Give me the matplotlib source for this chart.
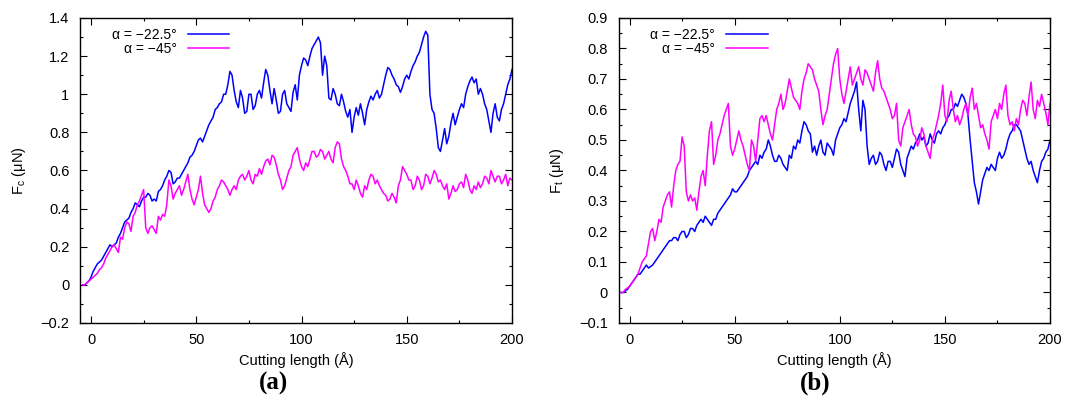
import matplotlib
matplotlib.use("Agg")
import matplotlib.pyplot as plt
import matplotlib.ticker as ticker
import numpy as np

plt.rcParams["font.family"] = ["Liberation Sans", "DejaVu Sans"]
plt.rcParams["font.size"] = 10.5

# sample positions (Å), one per angstrom from -4 to 200
cut_len = np.arange(-4, 201, 1)

# (a) cutting force F_c (uN), rows of 10 samples
fc_225 = [
    0.00, 0.00, 0.01, 0.02, 0.04, 0.07, 0.09, 0.11, 0.12, 0.13,
    0.15, 0.17, 0.19, 0.21, 0.20, 0.21, 0.22, 0.25, 0.27, 0.30,
    0.33, 0.34, 0.35, 0.38, 0.40, 0.43, 0.42, 0.41, 0.44, 0.46,
    0.46, 0.48, 0.47, 0.44, 0.45, 0.44, 0.49, 0.50, 0.52, 0.55,
    0.57, 0.60, 0.59, 0.53, 0.54, 0.56, 0.56, 0.58, 0.60, 0.62,
    0.64, 0.67, 0.68, 0.70, 0.73, 0.76, 0.77, 0.75, 0.78, 0.81,
    0.84, 0.86, 0.88, 0.92, 0.93, 0.95, 0.96, 1.00, 1.00, 1.05,
    1.12, 1.10, 1.02, 0.96, 0.93, 1.02, 0.98, 0.90, 0.91, 1.00,
    1.00, 0.92, 0.94, 1.00, 1.02, 0.98, 1.06, 1.13, 1.10, 1.02,
    0.95, 1.03, 0.97, 0.90, 0.91, 1.00, 1.02, 0.95, 0.93, 0.91,
    1.01, 1.05, 0.97, 1.10, 1.15, 1.19, 1.18, 1.15, 1.20, 1.24,
    1.26, 1.28, 1.30, 1.27, 1.10, 1.20, 1.15, 0.98, 0.97, 1.03,
    1.00, 0.95, 0.94, 1.00, 0.96, 0.91, 0.88, 0.92, 0.80, 0.88,
    0.93, 0.89, 0.95, 0.90, 0.84, 0.92, 0.96, 0.99, 0.97, 1.00,
    1.02, 0.98, 1.00, 1.05, 1.10, 1.14, 1.13, 1.10, 1.08, 1.05,
    1.04, 1.01, 1.04, 1.08, 1.10, 1.08, 1.12, 1.15, 1.17, 1.20,
    1.22, 1.26, 1.30, 1.33, 1.31, 1.00, 0.92, 0.90, 0.82, 0.72,
    0.70, 0.76, 0.82, 0.74, 0.78, 0.85, 0.90, 0.84, 0.88, 0.92,
    0.95, 0.93, 1.00, 1.04, 1.07, 1.09, 1.06, 1.08, 1.00, 1.03,
    1.00, 0.95, 0.92, 0.86, 0.80, 0.90, 0.95, 0.88, 0.86, 0.92,
    0.95, 1.00, 1.05, 1.08, 1.13,
]
fc_45 = [
    0.00, 0.00, 0.01, 0.02, 0.03, 0.04, 0.05, 0.06, 0.08, 0.09,
    0.11, 0.14, 0.16, 0.18, 0.20, 0.21, 0.19, 0.17, 0.25, 0.24,
    0.30, 0.33, 0.32, 0.28, 0.36, 0.38, 0.42, 0.44, 0.47, 0.50,
    0.30, 0.27, 0.30, 0.31, 0.29, 0.27, 0.36, 0.34, 0.37, 0.36,
    0.42, 0.55, 0.52, 0.45, 0.48, 0.50, 0.52, 0.47, 0.50, 0.54,
    0.58, 0.50, 0.45, 0.42, 0.46, 0.50, 0.57, 0.48, 0.42, 0.40,
    0.38, 0.40, 0.44, 0.46, 0.50, 0.52, 0.55, 0.54, 0.52, 0.50,
    0.47, 0.50, 0.52, 0.50, 0.55, 0.57, 0.58, 0.55, 0.57, 0.60,
    0.55, 0.53, 0.58, 0.57, 0.61, 0.58, 0.62, 0.65, 0.66, 0.63,
    0.68, 0.67, 0.63, 0.58, 0.55, 0.50, 0.52, 0.56, 0.60, 0.62,
    0.68, 0.70, 0.72, 0.66, 0.62, 0.60, 0.64, 0.62, 0.66, 0.70,
    0.70, 0.67, 0.68, 0.71, 0.70, 0.66, 0.68, 0.70, 0.66, 0.64,
    0.72, 0.75, 0.74, 0.66, 0.62, 0.60, 0.57, 0.53, 0.53, 0.50,
    0.55, 0.52, 0.48, 0.46, 0.52, 0.50, 0.55, 0.58, 0.57, 0.53,
    0.55, 0.52, 0.50, 0.48, 0.47, 0.44, 0.45, 0.48, 0.46, 0.43,
    0.52, 0.55, 0.62, 0.60, 0.58, 0.55, 0.55, 0.50, 0.52, 0.57,
    0.55, 0.50, 0.52, 0.58, 0.57, 0.53, 0.56, 0.60, 0.58, 0.54,
    0.55, 0.52, 0.50, 0.53, 0.45, 0.48, 0.52, 0.49, 0.50, 0.53,
    0.54, 0.51, 0.58, 0.55, 0.50, 0.48, 0.52, 0.50, 0.54, 0.51,
    0.53, 0.57, 0.56, 0.53, 0.60, 0.57, 0.54, 0.57, 0.57, 0.53,
    0.55, 0.58, 0.52, 0.56, 0.55,
]

# (b) thrust force F_t (uN)
ft_225 = [
    0.000, 0.000, 0.005, 0.01, 0.02, 0.03, 0.04, 0.05, 0.06, 0.06,
    0.07, 0.08, 0.09, 0.08, 0.085, 0.09, 0.10, 0.11, 0.12, 0.13,
    0.14, 0.15, 0.16, 0.17, 0.17, 0.18, 0.18, 0.17, 0.19, 0.20,
    0.20, 0.18, 0.19, 0.21, 0.21, 0.20, 0.22, 0.23, 0.24, 0.23,
    0.25, 0.24, 0.23, 0.22, 0.24, 0.24, 0.26, 0.27, 0.28, 0.29,
    0.30, 0.31, 0.32, 0.34, 0.33, 0.33, 0.34, 0.35, 0.36, 0.37,
    0.38, 0.40, 0.41, 0.42, 0.43, 0.42, 0.45, 0.44, 0.46, 0.47,
    0.50, 0.48, 0.45, 0.43, 0.43, 0.45, 0.44, 0.42, 0.41, 0.40,
    0.45, 0.44, 0.48, 0.47, 0.50, 0.49, 0.53, 0.56, 0.55, 0.53,
    0.52, 0.46, 0.48, 0.45, 0.48, 0.50, 0.46, 0.45, 0.49, 0.48,
    0.47, 0.45, 0.50, 0.52, 0.54, 0.55, 0.57, 0.56, 0.59, 0.62,
    0.64, 0.66, 0.69, 0.60, 0.53, 0.63, 0.60, 0.48, 0.42, 0.44,
    0.45, 0.42, 0.43, 0.46, 0.45, 0.42, 0.40, 0.43, 0.43, 0.41,
    0.44, 0.47, 0.46, 0.42, 0.40, 0.38, 0.44, 0.46, 0.48, 0.47,
    0.49, 0.50, 0.52, 0.50, 0.51, 0.48, 0.49, 0.52, 0.50, 0.49,
    0.52, 0.53, 0.52, 0.54, 0.55, 0.57, 0.58, 0.60, 0.60, 0.62,
    0.61, 0.63, 0.65, 0.64, 0.62, 0.58, 0.50, 0.43, 0.36, 0.33,
    0.29, 0.33, 0.37, 0.39, 0.41, 0.40, 0.42, 0.41, 0.40, 0.44,
    0.46, 0.44, 0.45, 0.47, 0.50, 0.52, 0.53, 0.55, 0.55, 0.54,
    0.53, 0.50, 0.47, 0.44, 0.42, 0.43, 0.40, 0.38, 0.36, 0.40,
    0.43, 0.44, 0.46, 0.47, 0.50,
]
ft_45 = [
    0.00, 0.00, 0.01, 0.015, 0.02, 0.03, 0.04, 0.05, 0.06, 0.08,
    0.10, 0.11, 0.12, 0.16, 0.20, 0.21, 0.17, 0.20, 0.24, 0.23,
    0.28, 0.30, 0.32, 0.33, 0.28, 0.35, 0.40, 0.42, 0.43, 0.51,
    0.48, 0.33, 0.30, 0.32, 0.30, 0.31, 0.27, 0.33, 0.38, 0.40,
    0.35, 0.45, 0.53, 0.56, 0.42, 0.45, 0.50, 0.52, 0.55, 0.58,
    0.60, 0.62, 0.48, 0.45, 0.47, 0.50, 0.53, 0.50, 0.48, 0.45,
    0.42, 0.40, 0.50, 0.48, 0.43, 0.50, 0.57, 0.58, 0.56, 0.58,
    0.55, 0.52, 0.50, 0.55, 0.60, 0.62, 0.65, 0.60, 0.62, 0.66,
    0.70, 0.67, 0.64, 0.63, 0.62, 0.60, 0.66, 0.70, 0.72, 0.75,
    0.74, 0.73, 0.70, 0.68, 0.66, 0.60, 0.55, 0.58, 0.60, 0.65,
    0.70, 0.75, 0.78, 0.80, 0.70, 0.65, 0.62, 0.66, 0.70, 0.74,
    0.68, 0.70, 0.72, 0.74, 0.70, 0.68, 0.73, 0.72, 0.70, 0.68,
    0.66, 0.72, 0.76, 0.70, 0.67, 0.66, 0.64, 0.62, 0.60, 0.57,
    0.58, 0.62, 0.50, 0.48, 0.54, 0.56, 0.58, 0.60, 0.55, 0.52,
    0.51, 0.48, 0.50, 0.54, 0.52, 0.48, 0.46, 0.44, 0.50, 0.52,
    0.55, 0.58, 0.62, 0.68, 0.58, 0.56, 0.63, 0.66, 0.60, 0.56,
    0.58, 0.55, 0.57, 0.60, 0.62, 0.58, 0.64, 0.67, 0.60, 0.62,
    0.58, 0.54, 0.55, 0.52, 0.50, 0.47, 0.56, 0.58, 0.60, 0.57,
    0.62, 0.60, 0.65, 0.68, 0.58, 0.55, 0.56, 0.53, 0.57, 0.55,
    0.60, 0.63, 0.62, 0.58, 0.64, 0.69, 0.60, 0.57, 0.63, 0.61,
    0.65, 0.62, 0.59, 0.55, 0.62,
]

labels = ["α = −22.5°", "α = −45°"]
colors = ["#0000ff", "#ff00ff"]


def fmt(v, pos):
    return f"{v:g}".replace("-", "−")


def draw_panel(ax, s1, s2, ylabel, ylim, ystep):
    ax.plot(cut_len, s1, color=colors[0], lw=1.1, label=labels[0])
    ax.plot(cut_len, s2, color=colors[1], lw=1.1, label=labels[1])
    ax.set_xlim(-5, 200)
    ax.set_ylim(*ylim)
    ax.xaxis.set_major_locator(ticker.MultipleLocator(50))
    ax.xaxis.set_minor_locator(ticker.MultipleLocator(25))
    ax.yaxis.set_major_locator(ticker.MultipleLocator(ystep))
    ax.yaxis.set_minor_locator(ticker.MultipleLocator(ystep / 2))
    ax.yaxis.set_major_formatter(ticker.FuncFormatter(fmt))
    ax.tick_params(which="both", direction="in", top=True, right=True, width=0.8)
    ax.tick_params(which="major", length=5)
    ax.tick_params(which="minor", length=2.5)
    ax.tick_params(axis="x", pad=7)
    ax.tick_params(axis="y", pad=8)
    ax.set_xlabel("Cutting length (Å)", labelpad=4)
    ax.set_ylabel(ylabel)
    ax.yaxis.set_label_coords(-0.122, 0.5)
    for sp in ax.spines.values():
        sp.set_linewidth(1.0)

    leg = ax.legend(loc="upper left", bbox_to_anchor=(0.05, 1.0), frameon=False,
                    markerfirst=False, handlelength=3.0, handletextpad=0.8,
                    labelspacing=0.0, borderaxespad=0.3, fontsize=10)
    leg._legend_handle_box.get_children()[0].align = "right"


fig = plt.figure(figsize=(10.66, 3.99), dpi=100)
ax1 = fig.add_axes([0.0755, 0.1905, 0.4048, 0.7644])
ax2 = fig.add_axes([0.5807, 0.1905, 0.4043, 0.7644])

draw_panel(ax1, fc_225, fc_45, r"F$_\mathregular{c}$ (μN)", (-0.2, 1.4), 0.2)
draw_panel(ax2, ft_225, ft_45, r"F$_\mathregular{t}$ (μN)", (-0.1, 0.9), 0.1)

fig.text(274 / 1066, 1 - 383 / 399, "(a)", ha="center", va="center",
         family="Liberation Serif", fontweight="bold", fontsize=18)
fig.text(815 / 1066, 1 - 383 / 399, "(b)", ha="center", va="center",
         family="Liberation Serif", fontweight="bold", fontsize=18)

fig.savefig("out.png", dpi=100)
